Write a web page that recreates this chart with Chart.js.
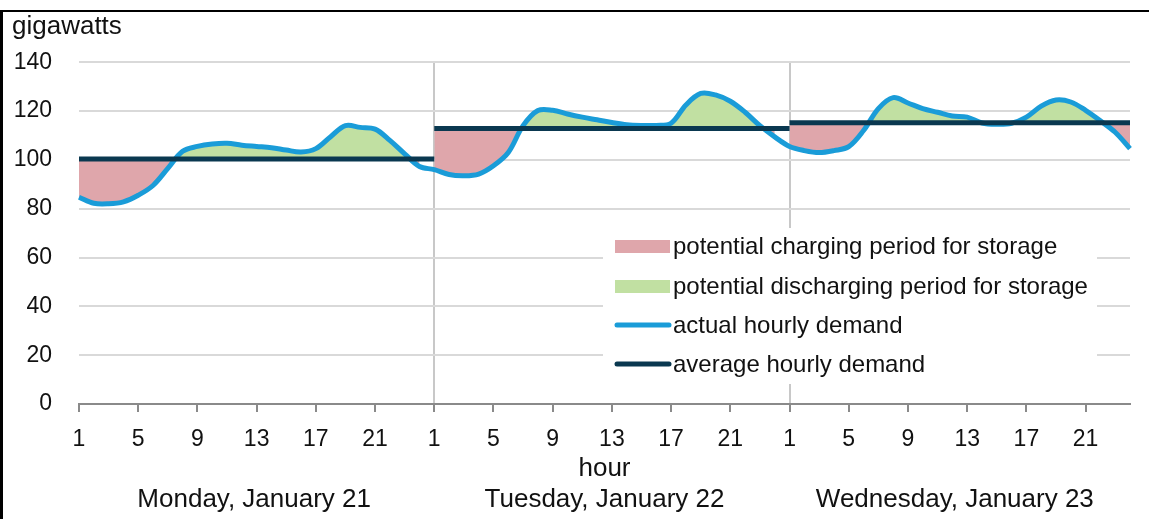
<!DOCTYPE html>
<html>
<head>
<meta charset="utf-8">
<script src="https://cdn.jsdelivr.net/npm/chart.js@4.4.1/dist/chart.umd.min.js"></script>
<style>
html,body{margin:0;padding:0;background:#fff;}
#wrap{position:relative;width:1149px;height:519px;overflow:hidden;background:#fff;}
#frame{position:absolute;left:0;top:10px;width:1149px;height:520px;border-left:3px solid #000;border-top:2px solid #000;box-sizing:border-box;pointer-events:none;}
canvas{position:absolute;left:0;top:0;}
</style>
</head>
<body>
<div id="wrap"><canvas id="c" width="1149" height="519"></canvas><div id="frame"></div></div>
<script>
// ---- data ----
const dayHours = [1,2,3,4,5,6,7,8,9,10,11,12,13,14,15,16,17,18,19,20,21,22,23,24];
const days = ['Monday, January 21', 'Tuesday, January 22', 'Wednesday, January 23'];
const demandMon = [84.7,82.2,82.0,82.8,85.5,89.5,96.5,103.5,105.5,106.5,106.8,106.0,105.5,105.0,104.0,103.2,104.6,109.5,114.0,113.3,112.6,108.0,102.5,97.3];
const demandTue = [96.0,94.0,93.5,94.2,97.6,103.0,114.0,120.2,120.3,118.8,117.5,116.4,115.3,114.4,114.1,114.1,115.0,122.5,127.2,126.6,124.0,119.5,114.0,109.4];
const demandWed = [105.5,103.8,103.0,103.8,105.4,112.0,121.0,125.5,123.3,121.0,119.5,118.0,117.5,115.1,114.6,115.0,117.5,122.0,124.5,123.7,120.3,116.0,111.3,104.6];
const avgDaily = [100.4, 112.8, 115.2];
const yTicks = [0,20,40,60,80,100,120,140];

// ---- derived structures for the library ----
const categories = [].concat(dayHours, dayHours, dayHours);
const demandDays = [demandMon, demandTue, demandWed];
const demand = [].concat(demandMon, demandTue, demandWed);
const N = categories.length;

const FONT = "'Liberation Sans', Arial, sans-serif";
const PINK = '#dfa6ab';
const GREEN = '#c1e0a2';
const BLUE = '#1a9cd8';
const NAVY = '#0a3850';

function avgSeries(d) {
  const a = new Array(N).fill(null);
  for (let i = d * 24; i <= Math.min(d * 24 + 24, N - 1); i++) a[i] = avgDaily[d];
  return a;
}
function fillSeries(d) {
  const a = new Array(N).fill(null);
  demandDays[d].forEach((v, k) => { a[d * 24 + k] = v; });
  return a;
}

const datasets = [];
for (let d = 0; d < 3; d++) {
  datasets.push({
    label: 'average hourly demand', data: avgSeries(d),
    borderColor: NAVY, borderWidth: 5, pointRadius: 0, tension: 0,
    borderCapStyle: 'butt', fill: false, spanGaps: false
  });
}
datasets.push({
  label: 'actual hourly demand', data: demand,
  borderColor: BLUE, borderWidth: 5, pointRadius: 0, tension: 0.35,
  borderJoinStyle: 'round', fill: false
});
for (let d = 0; d < 3; d++) {
  datasets.push({
    label: 'fill', data: fillSeries(d),
    borderWidth: 0, borderColor: 'transparent', pointRadius: 0, tension: 0.35,
    fill: { target: d, above: GREEN, below: PINK }, spanGaps: false
  });
}

const legendItems = [
  { text: 'potential charging period for storage', kind: 'box', color: PINK },
  { text: 'potential discharging period for storage', kind: 'box', color: GREEN },
  { text: 'actual hourly demand', kind: 'line', color: BLUE },
  { text: 'average hourly demand', kind: 'line', color: NAVY }
];

const boxLegend = {
  id: 'boxLegend',
  afterDatasetsDraw(chart) {
    const ctx = chart.ctx;
    ctx.save();
    ctx.fillStyle = '#fff';
    ctx.fillRect(603, 228, 494, 156);
    const rows = [246, 286, 325, 364];
    legendItems.forEach((it, i) => {
      const y = rows[i];
      if (it.kind === 'box') {
        ctx.fillStyle = it.color;
        ctx.fillRect(615, y - 6, 55, 13);
      } else {
        ctx.strokeStyle = it.color;
        ctx.lineWidth = 5;
        ctx.lineCap = 'round';
        ctx.beginPath();
        ctx.moveTo(617, y);
        ctx.lineTo(669, y);
        ctx.stroke();
      }
      ctx.fillStyle = '#111';
      ctx.font = '24px ' + FONT;
      ctx.textAlign = 'left';
      ctx.textBaseline = 'middle';
      ctx.fillText(it.text, 673, y + 1);
    });
    ctx.restore();
  }
};

new Chart(document.getElementById('c'), {
  type: 'line',
  data: { labels: categories, datasets },
  plugins: [boxLegend],
  options: {
    responsive: false,
    animation: false,
    devicePixelRatio: 1,
    layout: { padding: { left: 12, right: 19, top: 0, bottom: 4 } },
    plugins: {
      legend: { display: false },
      tooltip: { enabled: false },
      title: {
        display: true, text: 'gigawatts', align: 'start', color: '#111',
        font: { family: FONT, size: 26, weight: 'normal' },
        padding: { top: 11, bottom: 20 }
      }
    },
    scales: {
      x: {
        type: 'category', position: 'bottom', weight: 0, offset: false,
        grid: {
          color: (c) => (c.index === 24 || c.index === 48) ? '#c8c8c8' : 'transparent',
          tickColor: (c) => (c.index % 4 === 0) ? '#8a8a8a' : 'transparent',
          lineWidth: 2, tickLength: 8, drawOnChartArea: true
        },
        border: { display: true, color: '#8a8a8a', width: 2 },
        ticks: {
          autoSkip: false, maxRotation: 0, minRotation: 0, padding: 14, color: '#111',
          font: { family: FONT, size: 23 },
          callback: (v, i) => (i % 4 === 0 ? String(categories[i]) : '')
        },
        title: {
          display: true, text: 'hour', color: '#111',
          font: { family: FONT, size: 26 }, padding: { top: -14, bottom: -1 }
        }
      },
      x2: {
        type: 'category', labels: days, position: 'bottom', weight: 1, offset: true,
        grid: { display: false, drawTicks: false }, border: { display: false },
        ticks: { padding: 0, color: '#111', font: { family: FONT, size: 26 }, maxRotation: 0 }
      },
      y: {
        min: 0, max: 140,
        afterBuildTicks: (s) => { s.ticks = yTicks.map(v => ({ value: v })); },
        afterFit: (s) => { s.width = 67; },
        ticks: { padding: 27, color: '#111', font: { family: FONT, size: 23 } },
        grid: { color: '#d9d9d9', lineWidth: 2, drawTicks: false },
        border: { display: false }
      }
    }
  }
});
</script>
</body>
</html>
